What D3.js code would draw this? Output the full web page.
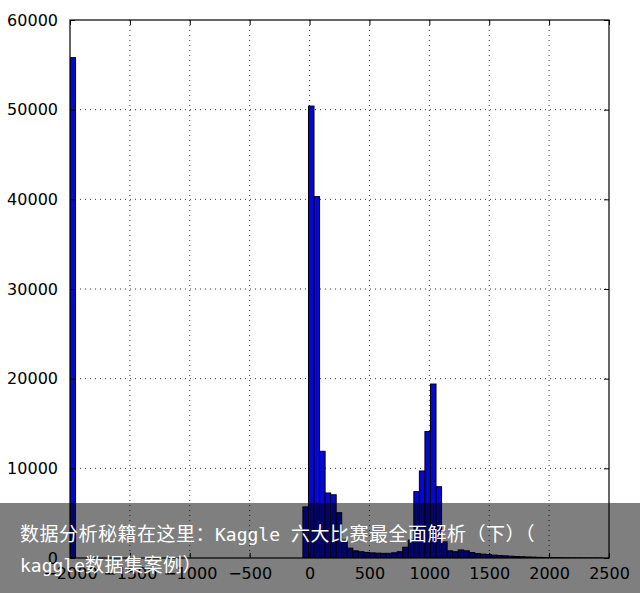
<!DOCTYPE html>
<html>
<head>
<meta charset="utf-8">
<script src="https://cdn.jsdelivr.net/npm/d3@7"></script>
<style>
  html, body { margin: 0; padding: 0; background: #ffffff; }
  svg { display: block; }
</style>
</head>
<body>
<svg id="chart" width="640" height="593"></svg>
<script>
// ---- data ----
const binStart = -2000;
const binWidth = 46.3;
const counts = [
  55800, 0, 0, 0, 0, 0, 0, 0, 0, 0,
  0, 0, 0, 0, 0, 0, 0, 0, 0, 0,
  0, 0, 0, 0, 0, 0, 0, 0, 0, 0,
  0, 0, 0, 0, 0, 0, 0, 0, 0, 0,
  0, 0, 5700, 50400, 40300, 11900, 7250, 7050, 5050, 2000,
  1100, 800, 700, 620, 570, 540, 520, 520, 580, 700,
  1200, 2000, 7400, 9700, 14100, 19400, 7950, 1800, 800, 700,
  900, 800, 600, 500, 430, 370, 320, 280, 240, 200,
  170, 140, 115, 95, 75, 60, 45, 35, 25, 18,
  12, 8, 5, 3, 2, 1, 0, 0, 0, 0
];
const xTicks = [-2000, -1500, -1000, -500, 0, 500, 1000, 1500, 2000, 2500];
const yTicks = [0, 10000, 20000, 30000, 40000, 50000, 60000];
const bannerLines = [
  "数据分析秘籍在这里：Kaggle 六大比赛最全面解析（下）（",
  "kaggle数据集案例）"
];

// ---- layout ----
const svg = d3.select("#chart");
const pL = 70, pR = 609, pT = 20, pB = 558;
const x = d3.scaleLinear().domain([-2000, 2500]).range([pL, pR]);
const y = d3.scaleLinear().domain([0, 60000]).range([pB, pT]);
const fmtX = d => d < 0 ? "\u2212" + Math.abs(d) : String(d);

svg.append("rect").attr("x", 0).attr("y", 0).attr("width", 640).attr("height", 593).attr("fill", "#fff");

svg.append("defs").append("clipPath").attr("id", "clip")
  .append("rect").attr("x", pL).attr("y", pT).attr("width", pR - pL).attr("height", pB - pT);

// grid
const grid = svg.append("g");
grid.selectAll("line.gx").data(xTicks.slice(1, -1)).enter().append("line")
  .attr("x1", d => x(d)).attr("x2", d => x(d)).attr("y1", pT).attr("y2", pB)
  .attr("stroke", "#000").attr("stroke-width", 0.8).attr("stroke-dasharray", "1,4");
grid.selectAll("line.gy").data(yTicks.slice(1, -1)).enter().append("line")
  .attr("y1", d => y(d)).attr("y2", d => y(d)).attr("x1", pL).attr("x2", pR)
  .attr("stroke", "#000").attr("stroke-width", 0.8).attr("stroke-dasharray", "1,4");

// bars
const bins = counts.map((c, i) => ({ x0: binStart + i * binWidth, x1: binStart + (i + 1) * binWidth, c }));
svg.append("g").attr("clip-path", "url(#clip)")
  .selectAll("rect").data(bins.filter(b => b.c > 0)).enter().append("rect")
  .attr("x", d => x(d.x0)).attr("width", d => x(d.x1) - x(d.x0))
  .attr("y", d => y(d.c)).attr("height", d => y(0) - y(d.c))
  .attr("fill", "#0707d2").attr("stroke", "#000").attr("stroke-width", 1);

// axes (classic style: ticks inward on all sides)
const tickLen = 5;
const axB = d3.axisBottom(x).tickValues(xTicks).tickFormat(fmtX).tickSizeInner(-tickLen).tickSizeOuter(0).tickPadding(10);
const axT = d3.axisTop(x).tickValues(xTicks).tickFormat("").tickSizeInner(-tickLen).tickSizeOuter(0);
const axL = d3.axisLeft(y).tickValues(yTicks).tickFormat(d3.format("d")).tickSizeInner(-tickLen).tickSizeOuter(0).tickPadding(12);
const axR = d3.axisRight(y).tickValues(yTicks).tickFormat("").tickSizeInner(-tickLen).tickSizeOuter(0);

function style(g) {
  g.select(".domain").remove();
  g.selectAll("text").attr("font-family", "DejaVu Sans").attr("font-size", 16).attr("fill", "#000");
  g.selectAll("line").attr("stroke", "#000");
}
svg.append("g").attr("transform", `translate(0,${pB})`).call(axB).call(style);
svg.append("g").attr("transform", `translate(0,${pT})`).call(axT).call(style);
svg.append("g").attr("transform", `translate(${pL},0)`).call(axL).call(style);
svg.append("g").attr("transform", `translate(${pR},0)`).call(axR).call(style);

// frame
svg.append("rect").attr("x", pL).attr("y", pT).attr("width", pR - pL).attr("height", pB - pT)
  .attr("fill", "none").attr("stroke", "#000").attr("stroke-width", 1.2);

// banner overlay
svg.append("rect").attr("x", 0).attr("y", 503).attr("width", 640).attr("height", 90)
  .attr("fill", "rgba(0,0,0,0.5)");
function runs(s) {
  // split into ASCII / non-ASCII runs so Latin uses a mono face and CJK uses Noto CJK
  const out = [];
  for (const ch of s) {
    const ascii = ch.charCodeAt(0) < 128;
    if (out.length && out[out.length - 1].ascii === ascii) out[out.length - 1].t += ch;
    else out.push({ ascii, t: ch });
  }
  return out;
}
const bt = svg.selectAll("text.banner").data(bannerLines).enter().append("text")
  .attr("class", "banner")
  .attr("x", 20).attr("y", (d, i) => 541 + i * 31)
  .attr("fill", "#fff");
bt.selectAll("tspan").data(d => runs(d)).enter().append("tspan")
  .attr("font-family", r => r.ascii ? "'DejaVu Sans Mono', monospace" : "'Noto Sans CJK SC', sans-serif")
  .attr("font-size", r => r.ascii ? 18 : 19)
  .attr("letter-spacing", r => r.ascii ? 0 : 0.5)
  .style("white-space", "pre")
  .text(r => r.t);
</script>
</body>
</html>
